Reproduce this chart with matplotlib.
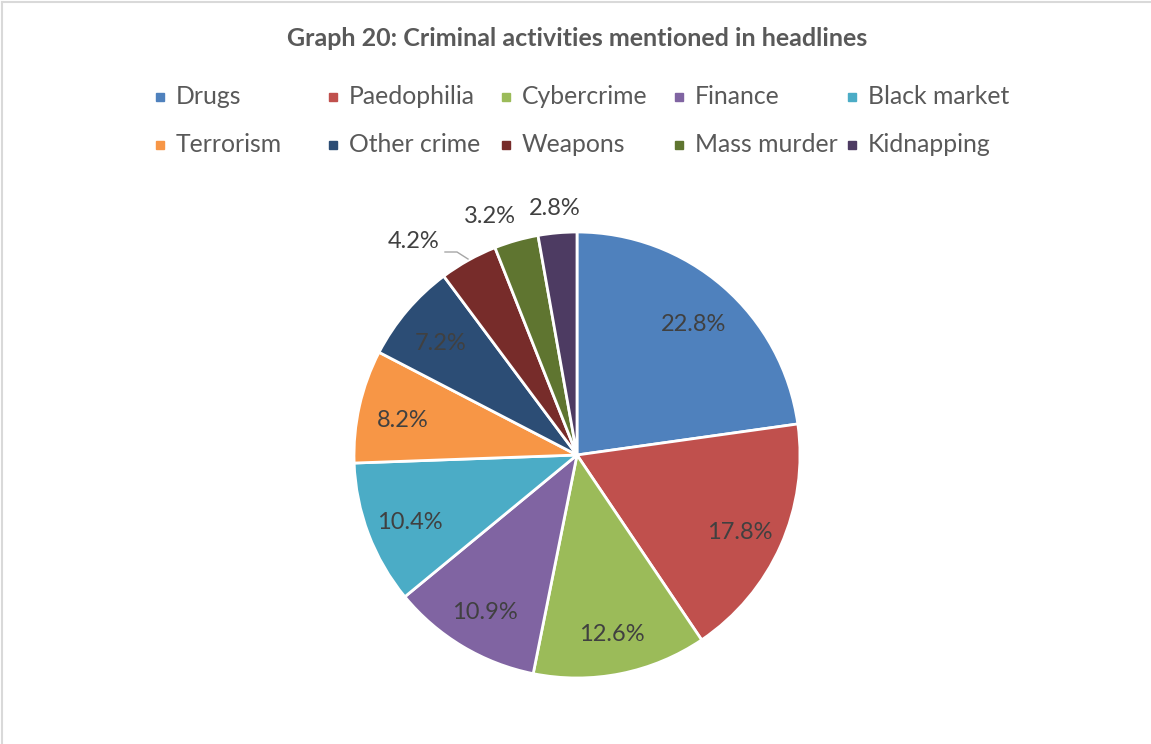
import numpy as np
import matplotlib.pyplot as plt

plt.rcParams['font.family'] = ['Lato', 'DejaVu Sans']

TITLE = 'Graph 20: Criminal activities mentioned in headlines'

categories = ['Drugs', 'Paedophilia', 'Cybercrime', 'Finance', 'Black market',
              'Terrorism', 'Other crime', 'Weapons', 'Mass murder', 'Kidnapping']
shares = [22.8, 17.8, 12.6, 10.9, 10.4, 8.2, 7.2, 4.2, 3.2, 2.8]
colors = ['#4F81BD', '#C0504D', '#9BBB59', '#8064A2', '#4BACC6',
          '#F79646', '#2C4D75', '#772C2A', '#5F7530', '#4D3B62']

W, H = 1151, 744
DPI = 100
TXT = '#404040'
LEG = '#595959'

fig = plt.figure(figsize=(W / DPI, H / DPI), dpi=DPI)

# chart area border (top and left edges only visible)
fig.add_artist(plt.Line2D([1.5 / W, 1], [1 - 1.5 / H, 1 - 1.5 / H], color='#D9D9D9', lw=1.5))
fig.add_artist(plt.Line2D([1.5 / W, 1.5 / W], [0, 1 - 1.5 / H], color='#D9D9D9', lw=1.5))

fig.text(577 / W, 1 - 39 / H, TITLE, ha='center', va='center',
         fontsize=18, fontweight='bold', color=LEG)

# legend drawn as a fixed 5-column grid
for i, (name, c) in enumerate(zip(categories, colors)):
    row, col = divmod(i, 5)
    x = 160 + col * 173
    y = 97 + row * 48
    fig.add_artist(plt.Rectangle(((x - 4) / W, 1 - (y + 4) / H), 8 / W, 8 / H,
                                 color=c, transform=fig.transFigure))
    fig.text((x + 16) / W, 1 - y / H, name, ha='left', va='center',
             fontsize=17.8, color=LEG)

# pie axes: unit radius maps to 223 px, centre at (577, 455)
R = 223
ext = 1.3
box = 2 * ext * R
ax = fig.add_axes([(577 - box / 2) / W, (H - 455 - box / 2) / H, box / W, box / H])

wedges, _ = ax.pie(shares, colors=colors, startangle=90, counterclock=False,
                   radius=1.0, wedgeprops=dict(edgecolor='white', linewidth=2))
ax.set_xlim(-ext, ext)
ax.set_ylim(-ext, ext)
ax.set_aspect('equal')
ax.axis('off')

# small slices get their labels outside the pie (offsets in px from centre)
outside = {'Weapons': (-163, 213), 'Mass murder': (-87, 238), 'Kidnapping': (-22, 246)}

for w, name, v in zip(wedges, categories, shares):
    mid = np.deg2rad((w.theta1 + w.theta2) / 2)
    lab = f'{v:.1f}%'
    if name in outside:
        lx, ly = outside[name]
        ax.text(lx / R, ly / R, lab, ha='center', va='center', fontsize=17, color=TXT)
        if name == 'Weapons':
            # leader line back to the slice
            ax.plot([-132 / R, -120 / R, -109 / R], [203 / R, 203 / R, 196 / R],
                    color='#A6A6A6', lw=1)
    else:
        r = 0.8
        ax.text(r * np.cos(mid), r * np.sin(mid) - 0.02, lab, ha='center', va='center',
                fontsize=17, color=TXT)

fig.savefig('out.png', dpi=DPI)
